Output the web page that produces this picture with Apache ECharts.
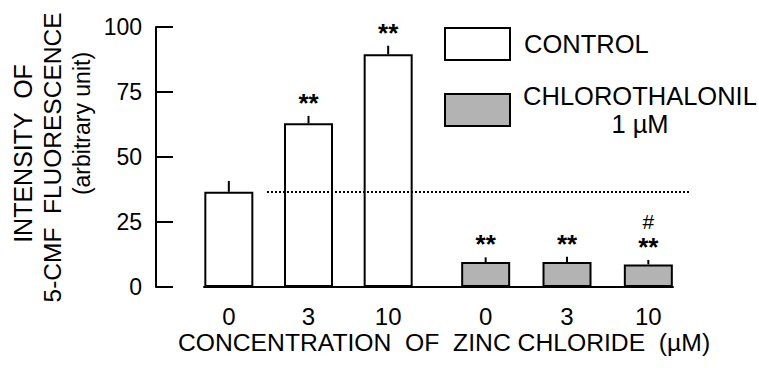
<!DOCTYPE html>
<html><head><meta charset="utf-8">
<script src="https://cdn.jsdelivr.net/npm/echarts@6/dist/echarts.min.js"></script>
<style>html,body{margin:0;padding:0;background:#fff}#c{width:759px;height:368px}</style>
</head><body><div id="c"></div>
<script>
// ---- data ----
const zincLevels = ['0', '3', '10'];
const seriesNames = ['CONTROL', 'CHLOROTHALONIL'];
const legendSub = '1 µM';
const ctrlMean = [36.6, 63.0, 89.5];
const ctrlErr = [4.2, 2.8, 3.3];
const ctrlSig = ['', '**', '**'];
const chloroMean = [9.6, 9.6, 8.7];
const chloroErr = [1.8, 2.0, 1.7];
const chloroSig = ['**', '**', '**'];
const chloroHash = ['', '', '#'];
const yTicks = [0, 25, 50, 75, 100];
const yTitle = ['INTENSITY  OF', '5-CMF  FLUORESCENCE', '(arbitrary unit)'];
const xTitle = 'CONCENTRATION  OF  ZINC CHLORIDE  (µM)';

// ---- chart ----
const FONT = '"Liberation Sans", Arial, Helvetica, sans-serif';
const chart = echarts.init(document.getElementById('c'), null, {renderer: 'svg'});
const yMin = yTicks[0], yMax = yTicks[yTicks.length - 1], yStep = yTicks[1] - yTicks[0];
const TOP = 27, BOTTOM = 81;

function errRenderer(means, errs, sigs, hashes) {
  return function (params, api) {
    const i = params.dataIndex;
    const p0 = api.coord([i, means[i]]);
    const p1 = api.coord([i, means[i] + errs[i]]);
    const children = [{
      type: 'line',
      shape: {x1: p0[0], y1: p0[1], x2: p1[0], y2: p1[1]},
      style: {stroke: '#000', lineWidth: 2}
    }];
    if (sigs[i]) {
      const txt = (hashes && hashes[i] ? '{h|' + hashes[i] + '}\n' : '') + '{s|' + sigs[i] + '}';
      children.push({
        type: 'text', x: p1[0], y: p1[1] - 3,
        style: {
          text: txt, fill: '#000', align: 'center', verticalAlign: 'bottom',
          rich: {
            s: {fontSize: 26, fontWeight: 'bold', fontFamily: FONT, lineHeight: 20, align: 'center', fill: '#000'},
            h: {fontSize: 21, fontFamily: FONT, lineHeight: 30, align: 'center', fill: '#000'}
          }
        }
      });
    }
    return {type: 'group', children: children};
  };
}

const barBase = {type: 'bar', barWidth: 49, animation: false};
const hiddenY = {type: 'value', min: yMin, max: yMax, show: false};
const catX = (gi) => ({
  type: 'category', gridIndex: gi, data: zincLevels,
  axisLine: {show: false}, axisTick: {show: false},
  axisLabel: {fontSize: 24, color: '#000', fontFamily: FONT, margin: 17}
});

const option = {
  animation: false,
  textStyle: {fontFamily: FONT},
  grid: [
    {left: 204, right: 86, top: TOP, bottom: BOTTOM},
    {left: 189, width: 239, top: TOP, bottom: BOTTOM},
    {left: 445, width: 244, top: TOP, bottom: BOTTOM}
  ],
  xAxis: [
    {type: 'value', gridIndex: 0, min: 0, max: 1,
      axisLine: {show: true, onZero: false, lineStyle: {color: '#000', width: 2}},
      axisTick: {show: false}, axisLabel: {show: false}, splitLine: {show: false},
      name: xTitle, nameLocation: 'middle', nameGap: 43,
      nameTextStyle: {fontSize: 24.7, color: '#000', fontFamily: FONT, padding: [0, 0, 0, 11]}},
    catX(1), catX(2)
  ],
  yAxis: [
    {type: 'value', gridIndex: 0, min: yMin, max: yMax, interval: yStep, offset: 48,
      axisLine: {show: true, onZero: false, lineStyle: {color: '#000', width: 2}},
      axisTick: {show: true, inside: true, length: 17, lineStyle: {color: '#000', width: 2}},
      axisLabel: {fontSize: 23, color: '#000', fontFamily: FONT, margin: 14},
      splitLine: {show: false}},
    Object.assign({gridIndex: 1}, hiddenY),
    Object.assign({gridIndex: 2}, hiddenY)
  ],
  legend: {
    orient: 'vertical', left: 444, top: 27, padding: 0,
    itemWidth: 65, itemHeight: 32, itemGap: 22,
    icon: 'rect',
    itemStyle: {borderColor: '#000', borderWidth: 2},
    data: seriesNames,
    selectedMode: false,
    formatter: function (name) {
      return name === seriesNames[1] ? '{c|' + name + '}\n{c|' + legendSub + '}' : '{a|' + name + '}';
    },
    textStyle: {
      fontSize: 25.5, color: '#000', fontFamily: FONT, padding: [0, 0, 0, 9],
      rich: {
        a: {fontSize: 25.5, fontFamily: FONT, color: '#000'},
        c: {fontSize: 25.5, fontFamily: FONT, color: '#000', width: 232, align: 'center', lineHeight: 28}
      }
    }
  },
  graphic: [
    {type: 'text', x: 22.5, y: 153.5, rotation: Math.PI / 2,
      style: {text: yTitle[0], fontSize: 25, fontFamily: FONT, fill: '#000', align: 'center', verticalAlign: 'middle'}},
    {type: 'text', x: 52, y: 157.5, rotation: Math.PI / 2,
      style: {text: yTitle[1], fontSize: 24.5, fontFamily: FONT, fill: '#000', align: 'center', verticalAlign: 'middle'}},
    {type: 'text', x: 82, y: 123.5, rotation: Math.PI / 2,
      style: {text: yTitle[2], fontSize: 23, fontFamily: FONT, fill: '#000', align: 'center', verticalAlign: 'middle'}}
  ],
  series: [
    Object.assign({}, barBase, {
      name: seriesNames[0], xAxisIndex: 1, yAxisIndex: 1,
      itemStyle: {color: '#ffffff', borderColor: '#000', borderWidth: 2},
      data: ctrlMean,
      markLine: {
        silent: true, symbol: 'none', animation: false,
        label: {show: false},
        lineStyle: {type: 'dotted', color: '#000', width: 2},
        data: [[{x: 267, yAxis: ctrlMean[0]}, {x: 689, yAxis: ctrlMean[0]}]]
      }
    }),
    Object.assign({}, barBase, {
      name: seriesNames[1], xAxisIndex: 2, yAxisIndex: 2,
      itemStyle: {color: '#b3b3b3', borderColor: '#000', borderWidth: 2},
      data: chloroMean
    }),
    {type: 'custom', xAxisIndex: 1, yAxisIndex: 1, z: 5, silent: true,
      renderItem: errRenderer(ctrlMean, ctrlErr, ctrlSig, null),
      data: ctrlMean.map((m, i) => [i, m, m + ctrlErr[i]])},
    {type: 'custom', xAxisIndex: 2, yAxisIndex: 2, z: 5, silent: true,
      renderItem: errRenderer(chloroMean, chloroErr, chloroSig, chloroHash),
      data: chloroMean.map((m, i) => [i, m, m + chloroErr[i]])}
  ]
};
chart.setOption(option);
</script>
</body></html>
